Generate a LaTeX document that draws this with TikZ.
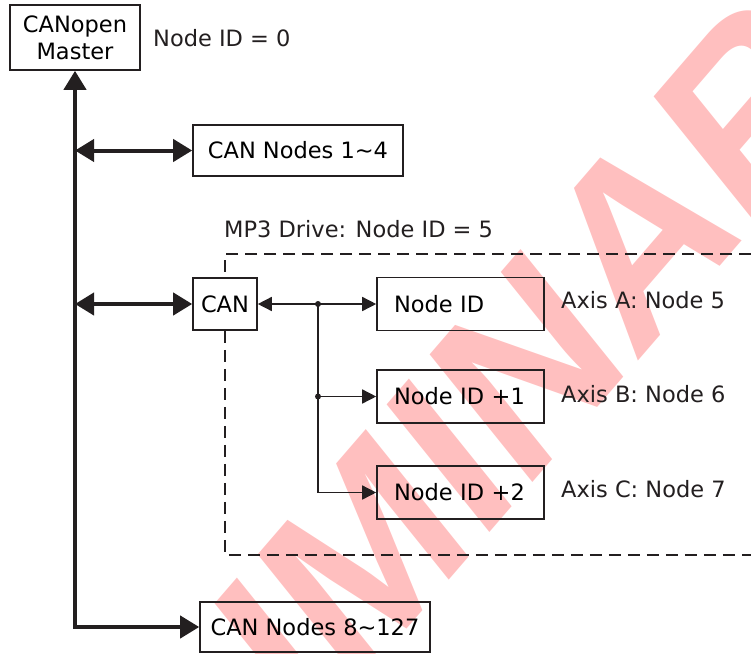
\documentclass[tikz,border=0pt]{standalone}
\usepackage{fontspec}
\setmainfont{DejaVu Sans}
\newfontfamily\stampfont{Liberation Sans Bold}
\usetikzlibrary{arrows.meta}
\definecolor{stamp}{RGB}{255,191,191}
\definecolor{ink}{RGB}{35,31,32}
\tikzset{
  box/.style={draw=ink, line width=1.6pt, inner sep=0pt, align=center},
  idbox/.style={box, minimum width=167pt, minimum height=53pt, inner xsep=17pt, text width=133pt, align=left},
  bus/.style={ink, line width=4pt},
  link/.style={ink, line width=1.5pt},
  bigtip/.tip={Triangle[length=19pt,width=22pt]},
  smalltip/.tip={Triangle[length=14pt,width=14pt]},
  frame/.style={ink, line width=1.8pt, dash pattern=on 12pt off 7pt},
  label/.style={anchor=west, inner sep=0pt, text=ink}
}
\begin{document}
\begin{tikzpicture}[x=1pt, y=-1pt, font=\fontsize{22.5}{27}\selectfont]
  \useasboundingbox (0,0) rectangle (751,653);
  % watermark
  \coordinate (wm) at (374,544);
  \begin{scope}
    \clip (0,0) rectangle (751,653);
    \node[yscale=1.2, rotate=44, text=stamp, inner sep=0pt, font=\stampfont\fontsize{215}{215}\selectfont] (stamp) at (wm) {PRELIMINARY};
  \end{scope}
  % nodes
  \node[box, minimum width=130pt, minimum height=65pt] (master) at (75,37.5) {CANopen\\Master};
  \node[label] (id0) at (153,38) {Node ID = 0};
  \node[box, minimum width=210pt, minimum height=51pt] (can14) at (298,150.5) {CAN Nodes 1\char"007E 4};
  \node[label] (mp3) at (224,229) {MP3 Drive: Node ID = 5};
  \node[box, minimum width=64pt, minimum height=52pt] (can) at (225,304) {CAN};
  \node[idbox] (nid0) at (460.5,304) {Node ID};
  \node[idbox] (nid1) at (460.5,396.5) {Node ID +1};
  \node[idbox] (nid2) at (460.5,492.5) {Node ID +2};
  \node[label] (axa) at (561,300) {Axis A: Node 5};
  \node[label] (axb) at (561,394) {Axis B: Node 6};
  \node[label] (axc) at (561,489) {Axis C: Node 7};
  \node[box, minimum width=230pt, minimum height=50pt] (can8) at (315,627) {CAN Nodes 8\char"007E 127};
  % drive frame
  \draw[frame] (751,254) -| (can.north);
  \draw[frame] (can.south) |- (751,555);
  % bus
  \draw[bus, {bigtip}-{bigtip}] (master.south) |- (can8.west);
  \draw[bus, {bigtip}-{bigtip}] (can14.west -| master.south) -- (can14.west);
  \draw[bus, {bigtip}-{bigtip}] (can.west -| master.south) -- (can.west);
  % drive links
  \coordinate (j0) at (318,304);
  \coordinate (j1) at (j0 |- nid1.west);
  \draw[link, {smalltip}-] (can.east) -- (j0);
  \draw[link, -{smalltip}] (j0) -- (nid0.west);
  \draw[link, -{smalltip}] (j1) -- (nid1.west);
  \draw[link, -{smalltip}] (j0) |- (nid2.west);
  \fill[ink] (j0) circle (3pt) (j1) circle (3pt);
\end{tikzpicture}
\end{document}
